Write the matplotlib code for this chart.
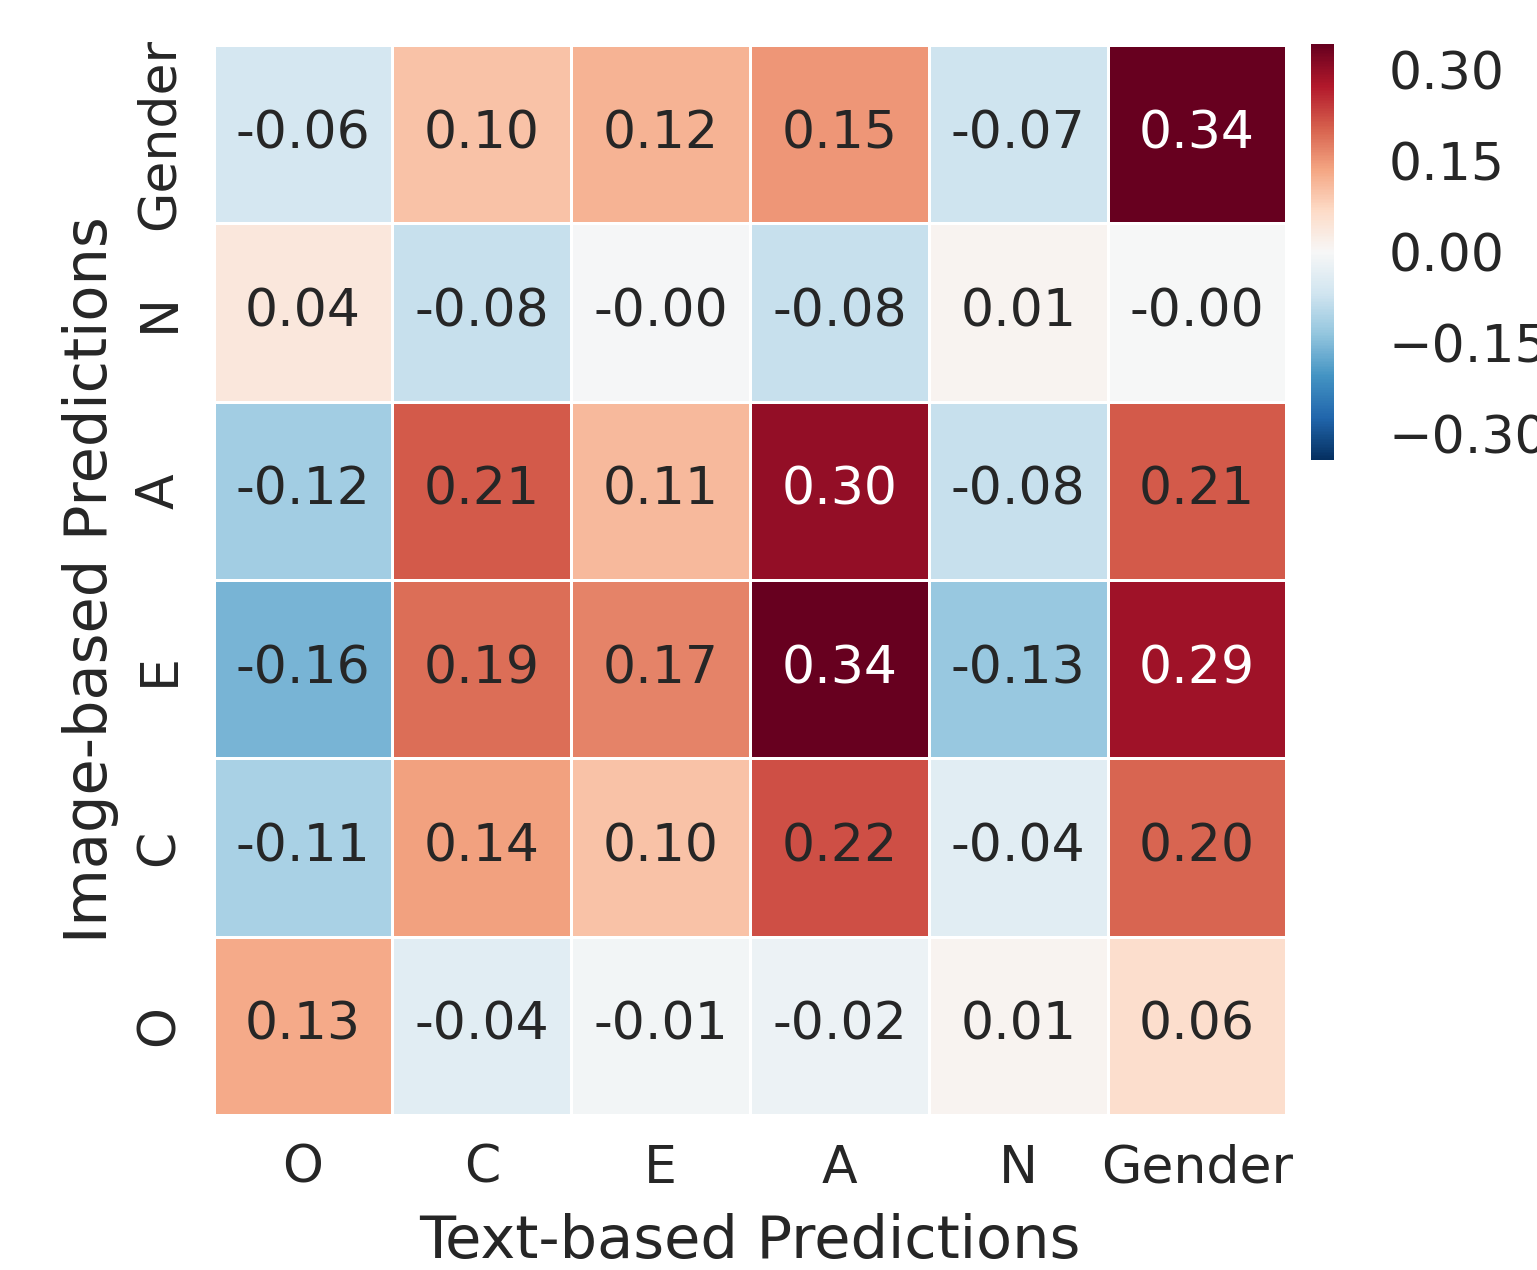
import numpy as np
import matplotlib
matplotlib.use("Agg")
import matplotlib.pyplot as plt
import seaborn as sns

text_traits = ["O", "C", "E", "A", "N", "Gender"]
image_traits = ["Gender", "N", "A", "E", "C", "O"]

# correlations, rows = image-based, cols = text-based
corr_gender = [-0.06, 0.10, 0.12, 0.15, -0.07, 0.342]
corr_n = [0.04, -0.08, -0.004, -0.08, 0.01, -0.001]
corr_a = [-0.12, 0.21, 0.11, 0.30, -0.08, 0.21]
corr_e = [-0.16, 0.19, 0.17, 0.34, -0.13, 0.29]
corr_c = [-0.11, 0.14, 0.10, 0.22, -0.04, 0.20]
corr_o = [0.13, -0.04, -0.01, -0.02, 0.01, 0.06]

corr = np.array([corr_gender, corr_n, corr_a, corr_e, corr_c, corr_o])
vmax = np.abs(corr).max()

sns.set_style("white")
txt = "#262626"
fs = 37.5

fig = plt.figure(figsize=(15.37, 12.7), dpi=100)
ax = fig.add_axes([0.139, 0.122, 0.698, 0.8425])
cax = fig.add_axes([0.853, 0.638, 0.015, 0.327])

sns.heatmap(corr, ax=ax, cbar_ax=cax, cmap="RdBu_r", vmin=-vmax, vmax=vmax,
            annot=True, fmt=".2f", annot_kws={"fontsize": fs},
            linewidths=1, linecolor="white",
            xticklabels=text_traits, yticklabels=image_traits)

# only the darkest cells get white numbers
for t, v in zip(ax.texts, corr.ravel()):
    t.set_color("white" if abs(v) > 0.25 else txt)

ax.tick_params(axis="x", length=0, labelsize=fs, colors=txt, pad=20.5)
ax.tick_params(axis="y", length=0, labelsize=fs, colors=txt, pad=21)
plt.setp(ax.get_yticklabels(), rotation=90, va="center")
plt.setp(ax.get_xticklabels(), rotation=0)
ax.set_xlabel("Text-based Predictions", fontsize=42.5, color=txt, labelpad=14)
ax.set_ylabel("Image-based Predictions", fontsize=42.5, color=txt, labelpad=11)

cax.set_yticks([-0.30, -0.15, 0.0, 0.15, 0.30])
cax.tick_params(length=0, labelsize=fs, colors=txt, pad=39.5)
cax.spines[:].set_visible(False)

fig.savefig("out.png", dpi=100)
